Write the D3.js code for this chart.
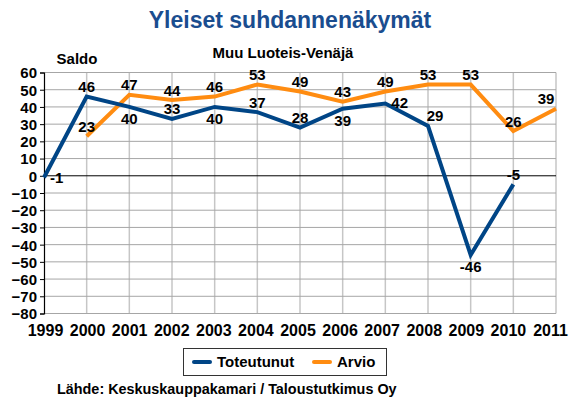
<!DOCTYPE html>
<html>
<head>
<meta charset="utf-8">
<script src="https://cdn.jsdelivr.net/npm/d3@7"></script>
<style>
  body { margin: 0; background: #fff; }
  svg text { font-family: "Liberation Sans", Arial, sans-serif; font-weight: bold; }
</style>
</head>
<body>
<svg width="581" height="401"></svg>
<script>
// data
var years = [1999, 2000, 2001, 2002, 2003, 2004, 2005, 2006, 2007, 2008, 2009, 2010, 2011];
var toteutunut = [-1, 46, 40, 33, 40, 37, 28, 39, 42, 29, -46, -5, null];
var arvio = [null, 23, 47, 44, 46, 53, 49, 43, 49, 53, 53, 26, 39];
var yTicks = [60, 50, 40, 30, 20, 10, 0, -10, -20, -30, -40, -50, -60, -70, -80];

// where each value label sits (a = above, b = below, r = right, ar/al = above shifted)
var toteutunutPos = ["r", "a", "b", "a", "b", "a", "a", "b", "r", "ar", "b", "a", null];
var arvioPos = [null, "a", "a", "a", "a", "a", "a", "a", "a", "a", "a", "a", "al"];

var svg = d3.select("svg");

var x = d3.scaleLinear().domain([1999, 2011]).range([44, 556]);
var y = d3.scaleLinear().domain([-80, 60]).range([313.5, 72.5]);
// year labels sit a bit tighter than the grid
var xLab = d3.scaleLinear().domain([1999, 2011]).range([45, 550]);

var blue = "#004586", orange = "#ff8c11";

// title + subtitle
svg.append("text")
    .attr("x", 290).attr("y", 28)
    .attr("text-anchor", "middle")
    .style("font-size", "23px")
    .style("fill", "#1a4d8f")
    .text("Yleiset suhdannenäkymät");

svg.append("text")
    .attr("x", 283).attr("y", 58)
    .attr("text-anchor", "middle")
    .style("font-size", "15px")
    .text("Muu Luoteis-Venäjä");

svg.append("text")
    .attr("x", 77).attr("y", 64)
    .attr("text-anchor", "middle")
    .style("font-size", "15px")
    .text("Saldo");

// grid
var grid = svg.append("g");
grid.selectAll(".vg")
    .data(years.slice(1))
    .enter().append("line")
    .attr("x1", d => x(d)).attr("x2", d => x(d))
    .attr("y1", y(60)).attr("y2", y(-80))
    .style("stroke", "#c6c6c6")
    .style("stroke-width", 1.5);

grid.selectAll(".hg")
    .data(yTicks.filter(d => d != 0))
    .enter().append("line")
    .attr("x1", x(1999)).attr("x2", x(2011))
    .attr("y1", d => y(d)).attr("y2", d => y(d))
    .style("stroke", "#a6a6a6")
    .style("stroke-width", 1);

// zero line
svg.append("line")
    .attr("x1", x(1999)).attr("x2", x(2011))
    .attr("y1", y(0)).attr("y2", y(0))
    .style("stroke", "#000").style("stroke-width", 1);

// y axis
var yAxis = svg.append("g")
    .attr("transform", "translate(" + x(1999) + ",0)")
    .call(d3.axisLeft(y).tickValues(yTicks).tickSize(4).tickPadding(3).tickFormat(d3.format("d")));
yAxis.select(".domain").style("stroke", "#000").style("stroke-width", 1.2);
yAxis.selectAll("text").style("font-size", "15px").style("fill", "#000")
    .attr("dy", "0.36em");

// x axis labels
var xAxis = svg.append("g")
    .attr("transform", "translate(0," + y(-80) + ")")
    .call(d3.axisBottom(xLab).tickValues(years).tickSize(0).tickPadding(11).tickFormat(d3.format("d")));
xAxis.select(".domain").remove();
xAxis.selectAll("text").style("font-size", "16px").style("fill", "#000");

// lines
var line = d3.line()
    .defined(d => d.v != null)
    .x(d => x(d.year))
    .y(d => y(d.v));

function series(vals) {
    return years.map((yr, i) => ({ year: yr, v: vals[i] }));
}

svg.append("path")
    .datum(series(arvio))
    .attr("d", line)
    .attr("fill", "none")
    .style("stroke", orange)
    .style("stroke-width", 4);

svg.append("path")
    .datum(series(toteutunut))
    .attr("d", line)
    .attr("fill", "none")
    .style("stroke", blue)
    .style("stroke-width", 4);

// value labels
function labels(vals, pos) {
    var data = series(vals).map((d, i) => ({ year: d.year, v: d.v, p: pos[i] }))
        .filter(d => d.v != null);
    svg.append("g").selectAll("text")
        .data(data)
        .enter().append("text")
        .attr("x", function(d) {
            if (d.p == "r") return x(d.year) + 6;
            if (d.p == "ar") return x(d.year) + 7;
            if (d.p == "al") return x(d.year) - 10;
            return x(d.year);
        })
        .attr("y", function(d) {
            if (d.p == "b") return y(d.v) + 17.5;
            if (d.p == "r") return y(d.v) + 5;
            return y(d.v) - 4.5;
        })
        .attr("text-anchor", d => d.p == "r" ? "start" : "middle")
        .style("font-size", "15px")
        .text(d => d.v);
}
labels(toteutunut, toteutunutPos);
labels(arvio, arvioPos);

// legend
var legend = svg.append("g");
legend.append("rect")
    .attr("x", 183.5).attr("y", 348.5)
    .attr("width", 203).attr("height", 27)
    .attr("fill", "#fff")
    .style("stroke", "#333").style("stroke-width", 1);

var items = [{ name: "Toteutunut", color: blue, x: 192 }, { name: "Arvio", color: orange, x: 312 }];
legend.selectAll(".li")
    .data(items)
    .enter().append("line")
    .attr("x1", d => d.x + 2).attr("x2", d => d.x + 18)
    .attr("y1", 362).attr("y2", 362)
    .style("stroke", d => d.color)
    .style("stroke-width", 4)
    .style("stroke-linecap", "round");
legend.selectAll(".lt")
    .data(items)
    .enter().append("text")
    .attr("x", d => d.x + 25).attr("y", 367)
    .style("font-size", "15px")
    .text(d => d.name);

// source
svg.append("text")
    .attr("x", 57).attr("y", 394)
    .style("font-size", "14.4px")
    .text("Lähde: Keskuskauppakamari / Taloustutkimus Oy");
</script>
</body>
</html>
